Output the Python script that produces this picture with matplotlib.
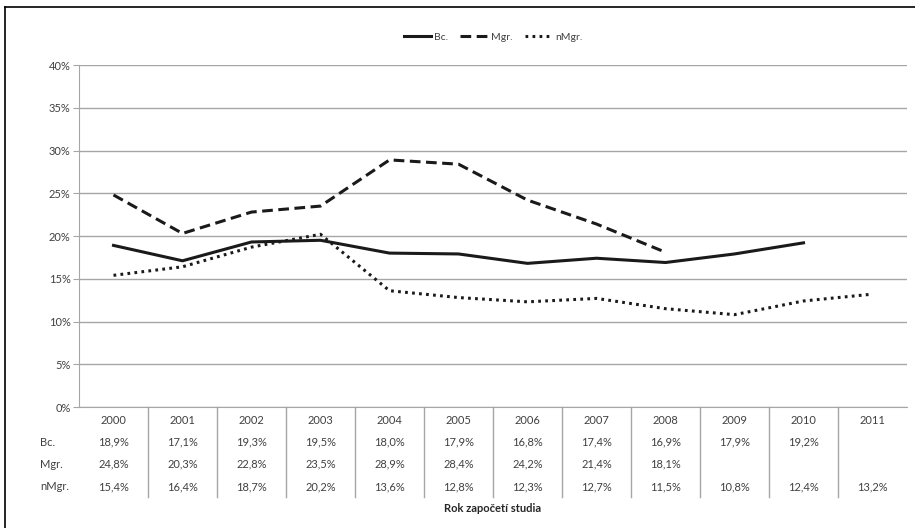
import numpy as np
import matplotlib.pyplot as plt
from matplotlib.lines import Line2D
from matplotlib.transforms import blended_transform_factory

plt.rcParams['font.family'] = ['Lato', 'DejaVu Sans']

years = ['2000', '2001', '2002', '2003', '2004', '2005', '2006', '2007', '2008', '2009', '2010', '2011']
bc = [18.9, 17.1, 19.3, 19.5, 18.0, 17.9, 16.8, 17.4, 16.9, 17.9, 19.2, None]
mgr = [24.8, 20.3, 22.8, 23.5, 28.9, 28.4, 24.2, 21.4, 18.1, None, None, None]
nmgr = [15.4, 16.4, 18.7, 20.2, 13.6, 12.8, 12.3, 12.7, 11.5, 10.8, 12.4, 13.2]
series_names = ['Bc.', 'Mgr.', 'nMgr.']

W, H = 915, 528
fig = plt.figure(figsize=(W / 100, H / 100), dpi=100)
# figure border (top & left visible)
fig.add_artist(Line2D([5 / W, 5 / W], [0, 1 - 7 / H], color='black', lw=1.2, transform=fig.transFigure))
fig.add_artist(Line2D([5 / W, 1], [1 - 7 / H, 1 - 7 / H], color='black', lw=1.2, transform=fig.transFigure))

ax = fig.add_axes([79 / W, 1 - 407 / H, 828 / W, 342 / H])
x = np.arange(len(years))

def arr(v):
    return np.array([np.nan if a is None else a for a in v], dtype=float)

styles = [dict(ls='-'), dict(ls=(0, (3.5, 1.8))), dict(ls=(0, (0.9, 1.4)))]
for name, vals, st in zip(series_names, [bc, mgr, nmgr], styles):
    ax.plot(x, arr(vals), color='#1a1a1a', lw=2.2, label=name, **st)

ax.set_xlim(-0.5, len(years) - 0.5)
ax.set_ylim(0, 40)
ax.set_yticks(range(0, 41, 5))
ax.set_yticklabels([f'{t}%' for t in range(0, 41, 5)], fontsize=8, color='#404040')
ax.set_xticks([])
ax.grid(axis='y', color='#a6a6a6', lw=1)
ax.set_axisbelow(True)
for s in ['top', 'right']:
    ax.spines[s].set_visible(False)
ax.spines['left'].set_color('#a6a6a6')
ax.spines['bottom'].set_color('#a6a6a6')
ax.tick_params(axis='y', length=4, color='#a6a6a6', pad=2)

leg = ax.legend(loc='center', bbox_to_anchor=(493 / W, 1 - 37 / H), bbox_transform=fig.transFigure,
                ncol=3, frameon=False, fontsize=7.5, handlelength=2.6, handletextpad=0.3,
                columnspacing=1.2)
for t in leg.get_texts():
    t.set_color('#404040')

# data table beneath the axis
tr = blended_transform_factory(ax.transData, fig.transFigure)
for b in np.arange(0.5, len(years) - 0.5, 1):
    fig.add_artist(Line2D([b, b], [1 - 407 / H, 1 - 497 / H], color='#a6a6a6', lw=1, transform=tr))

row_y = [442, 464, 487]
for i, yr in enumerate(years):
    ax.text(i, 1 - 420 / H, yr, transform=tr, ha='center', va='center', fontsize=8, color='#404040')
    for vals, ry in zip([bc, mgr, nmgr], row_y):
        if vals[i] is not None:
            ax.text(i, 1 - ry / H, f'{vals[i]:.1f}%'.replace('.', ','), transform=tr,
                    ha='center', va='center', fontsize=8, color='#404040')
for name, ry in zip(series_names, row_y):
    fig.text(40 / W, 1 - ry / H, name, ha='left', va='center', fontsize=8, color='#404040')

fig.text(493 / W, 1 - 508 / H, 'Rok započetí studia', ha='center', va='center',
         fontsize=8, fontweight='bold', color='#262626')

fig.savefig('out.png', dpi=100)
